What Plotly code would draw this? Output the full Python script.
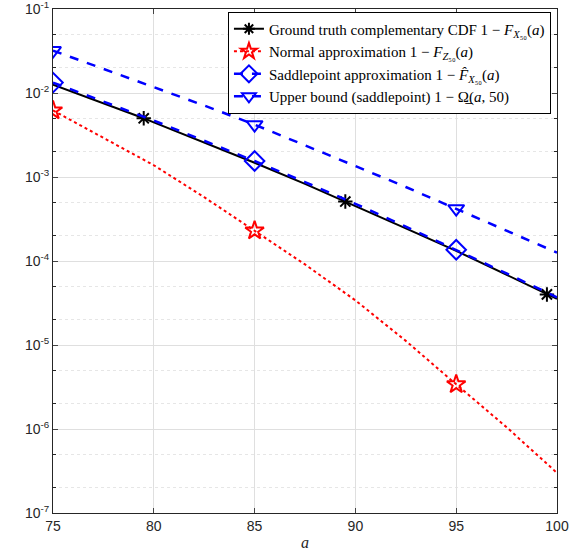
import plotly.graph_objects as go

# ---- data ----
a_grid = [75, 77.5, 80, 82.5, 85, 87.5, 90, 92.5, 95, 97.5, 100]

truth_x = [75, 77.5, 79.5, 80, 82.5, 85, 87.5, 89.5, 90, 92.5, 95, 97.5, 99.5, 100]
truth_y = [1.26e-2, 7.6e-3, 5.0e-3, 4.47e-3, 2.57e-3, 1.48e-3, 8.3e-4, 5.1e-4,
           4.57e-4, 2.45e-4, 1.32e-4, 6.8e-5, 4.0e-5, 3.55e-5]
truth_mark_x = [79.5, 89.5, 99.5]
truth_mark_y = [5.0e-3, 5.1e-4, 4.0e-5]

normal_y = [6.2e-3, 2.95e-3, 1.38e-3, 5.75e-4, 2.3e-4, 9.1e-5, 3.4e-5,
            1.12e-5, 3.4e-6, 1.05e-6, 3.0e-7]
saddle_y = [1.33e-2, 7.9e-3, 4.7e-3, 2.7e-3, 1.55e-3, 8.7e-4, 4.8e-4,
            2.57e-4, 1.36e-4, 7.1e-5, 3.7e-5]
upper_y = [3.2e-2, 1.95e-2, 1.17e-2, 7.1e-3, 4.2e-3, 2.4e-3, 1.35e-3,
           7.6e-4, 4.2e-4, 2.3e-4, 1.26e-4]
mark_x = [75, 85, 95]

names = [
    "Ground truth complementary CDF 1 − <i>F</i><sub><i>X</i>₅₀</sub>(<i>a</i>)",
    "Normal approximation 1 − <i>F</i><sub><i>Z</i>₅₀</sub>(<i>a</i>)",
    "Saddlepoint approximation 1 − <i>F̂</i><sub><i>X</i>₅₀</sub>(<i>a</i>)",
    "Upper bound (saddlepoint) 1 − Ω̲(<i>a</i>, 50)",
]

y_tickvals = [1e-7, 1e-6, 1e-5, 1e-4, 1e-3, 1e-2, 1e-1]
y_ticktext = ["10<sup>-7</sup>", "10<sup>-6</sup>", "10<sup>-5</sup>", "10<sup>-4</sup>",
              "10<sup>-3</sup>", "10<sup>-2</sup>", "10<sup>-1</sup>"]
x_tickvals = [75, 80, 85, 90, 95, 100]

fig = go.Figure()

def at(xs, ys, pts):
    return [ys[xs.index(p)] for p in pts]

series = [
    (truth_x, truth_y, truth_mark_x, truth_mark_y, "black", "solid", "asterisk-open", 2, 12),
    (a_grid, normal_y, mark_x, at(a_grid, normal_y, mark_x), "red", "dot", "star-open", 2, 14),
    (a_grid, saddle_y, mark_x, at(a_grid, saddle_y, mark_x), "blue", "dash", "diamond-open", 2.5, 15),
    (a_grid, upper_y, mark_x, at(a_grid, upper_y, mark_x), "blue", "dash", "triangle-down-open", 2.5, 14),
]

for (xs, ys, mx, my, col, dash, sym, lw, ms), nm in zip(series, names):
    fig.add_trace(go.Scatter(x=xs, y=ys, mode="lines", showlegend=False,
                             line=dict(color=col, width=lw, dash=dash)))
    fig.add_trace(go.Scatter(x=mx, y=my, mode="markers", showlegend=False,
                             marker=dict(symbol=sym, size=ms, color=col,
                                         line=dict(color=col, width=2))))
    fig.add_trace(go.Scatter(x=[None], y=[None], mode="lines+markers", name=nm,
                             line=dict(color=col, width=lw, dash=dash),
                             marker=dict(symbol=sym, size=ms - 2, color=col,
                                         line=dict(color=col, width=2))))

axis_font = dict(family="Liberation Sans, Arial, sans-serif", size=14, color="#262626")

fig.update_layout(
    width=575, height=554,
    margin=dict(l=53, r=18, t=9, b=41),
    paper_bgcolor="white", plot_bgcolor="white",
    font=axis_font,
    showlegend=True,
    legend=dict(x=0.988, y=0.995, xanchor="right", yanchor="top",
                bgcolor="white", bordercolor="black", borderwidth=1,
                font=dict(family="Liberation Serif, DejaVu Serif, serif", size=15, color="black"),
                tracegroupgap=0, itemwidth=30),
    xaxis=dict(range=[75, 100], tickvals=x_tickvals, ticks="inside", ticklen=5,
               showline=True, linecolor="#262626", linewidth=1, mirror="ticks",
               showgrid=True, gridcolor="#dfdfdf", gridwidth=1, zeroline=False,
               tickfont=axis_font, automargin=False, ticklabeloverflow="allow",
               title=dict(text="<i>a</i>", font=dict(family="Liberation Serif, serif", size=16, color="#262626"), standoff=4)),
    yaxis=dict(type="log", range=[-7, -1], tickvals=y_tickvals, ticktext=y_ticktext,
               ticks="inside", ticklen=5, automargin=False, ticklabeloverflow="allow",
               showline=True, linecolor="#262626", linewidth=1, mirror="ticks",
               showgrid=True, gridcolor="#dfdfdf", gridwidth=1, zeroline=False,
               tickfont=axis_font,
               minor=dict(ticks="inside", ticklen=3, tickcolor="#262626",
                          showgrid=True, gridcolor="#e6e6e6", griddash="dot", gridwidth=1)),
)

fig.write_html("out.html", config={"displayModeBar": False},
               post_script="document.body.style.margin='0';")
